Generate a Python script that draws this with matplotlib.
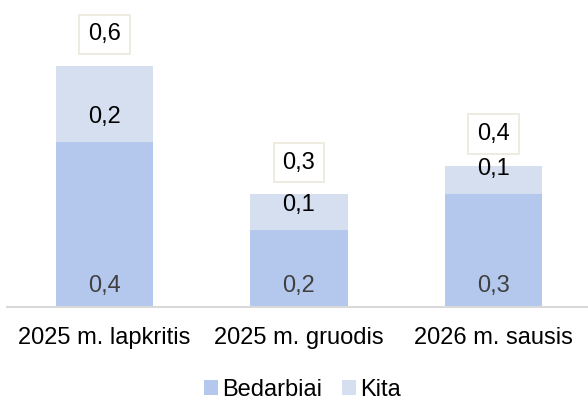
import numpy as np
import matplotlib
matplotlib.use("Agg")
import matplotlib.pyplot as plt

# data
categories = ["2025 m. lapkritis", "2025 m. gruodis", "2026 m. sausis"]
bedarbiai = [0.41, 0.19, 0.28]
kita = [0.19, 0.09, 0.072]

plt.rcParams['font.family'] = ['Liberation Sans', 'DejaVu Sans']

c_bottom = '#b4c8ee'
c_top = '#d5dff0'

fig = plt.figure(figsize=(5.88, 4.0), dpi=100)
ax = fig.add_axes([7.15/588, 93.5/400, 583.5/588, 306.5/400])

x = np.arange(len(categories))
bot = np.array(bedarbiai)
top = np.array(kita)
tot = bot + top

ax.bar(x, bot, width=0.5, color=c_bottom, label='Bedarbiai')
ax.bar(x, top, width=0.5, bottom=bot, color=c_top, label='Kita')

fs = 17
for i in range(len(x)):
    # bottom segment labels near the base
    ax.annotate(f"{bot[i]:.1f}".replace('.', ','), (x[i], 0), xytext=(0, 15),
                textcoords='offset points', ha='center', va='center',
                fontsize=fs, color='#404040')
    # top segment labels
    ax.annotate(f"{top[i]:.1f}".replace('.', ','), (x[i], bot[i]), xytext=(0, 18),
                textcoords='offset points', ha='center', va='center',
                fontsize=fs, color='black')
    # totals in boxes
    ax.annotate(f"{tot[i]:.1f}".replace('.', ','), (x[i], tot[i]), xytext=(0, 23),
                textcoords='offset points', ha='center', va='center',
                fontsize=fs, color='black',
                bbox=dict(boxstyle='square,pad=0.38', fc='white', ec='#ebe8dc', lw=1.2))

ax.set_xlim(-0.5, 2.5)
ax.set_ylim(0, 0.766)
ax.set_xticks(x)
ax.set_xticklabels(categories, fontsize=fs)
ax.set_yticks([])
ax.tick_params(axis='x', length=0, pad=15)
for s in ['top', 'right', 'left']:
    ax.spines[s].set_visible(False)
ax.spines['bottom'].set_color('#d9d9d9')
ax.spines['bottom'].set_linewidth(1.5)

fig.legend(loc='center', bbox_to_anchor=(0.515, 1 - 390/400), ncol=2, frameon=False,
           fontsize=fs, handlelength=0.56, handleheight=0.56, handletextpad=0.2,
           columnspacing=0.85, borderaxespad=0)

fig.savefig('out.png', dpi=100)
